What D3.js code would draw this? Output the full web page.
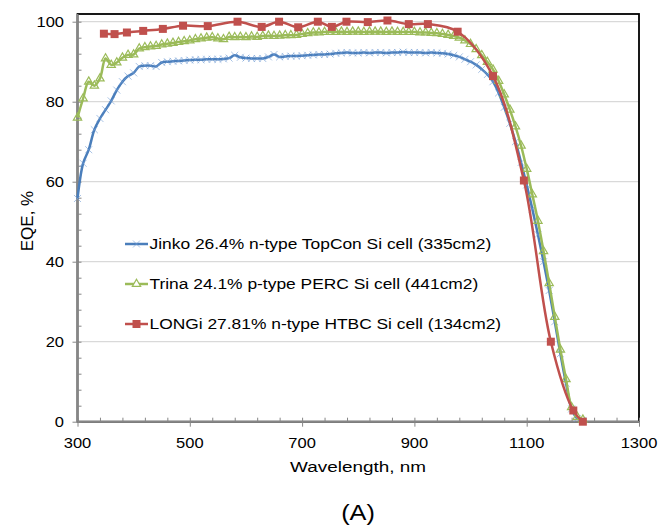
<!DOCTYPE html>
<html>
<head>
<meta charset="utf-8">
<script src="https://cdn.jsdelivr.net/npm/d3@7"></script>
<style>
  body { margin: 0; background: #fff; }
  text { font-family: "Liberation Sans", Arial, sans-serif; fill: #000; }
</style>
</head>
<body>
<div id="chart"></div>
<script>
// wavelength grid (nm) shared by Jinko and Trina
var wlGrid = [300,310,320,330,340,350,360,370,380,390,400,410,420,430,440,450,460,470,480,490,
  500,510,520,530,540,550,560,570,580,590,600,610,620,630,640,650,660,670,680,690,
  700,710,720,730,740,750,760,770,780,790,800,810,820,830,840,850,860,870,880,890,
  900,910,920,930,940,950,960,970,980,990,1000,1010,1020,1030,1040,1050,1060,1070,1080,1090,
  1100,1110,1120,1130,1140,1150,1160,1170,1180,1190,1200];

var jinkoEQE = [55.8,64.6,68.0,73.0,75.8,78.0,80.2,82.9,85.0,86.4,87.2,88.8,89.0,89.0,88.8,89.8,90.0,90.1,90.2,90.3,
  90.4,90.5,90.5,90.6,90.6,90.6,90.7,90.9,91.6,91.1,90.9,90.8,90.8,90.8,91.2,91.8,91.2,91.3,91.4,91.4,
  91.5,91.6,91.7,91.8,91.8,91.9,92.1,92.2,92.3,92.2,92.2,92.3,92.2,92.3,92.3,92.2,92.3,92.3,92.4,92.3,
  92.3,92.3,92.2,92.3,92.2,92.1,91.9,91.6,91.2,90.6,90.0,89.2,88.1,86.8,85.0,82.2,78.6,74.6,70.0,64.8,
  59.2,53.2,46.8,40.0,32.8,25.0,17.0,9.6,3.2,0.8,0.3];

var trinaEQE = [76.0,80.8,85.0,84.0,85.8,90.8,89.2,89.8,91.0,91.7,91.8,93.3,93.6,93.8,93.9,94.3,94.5,94.7,94.9,95.1,
  95.3,95.6,95.8,96.0,96.1,95.8,95.6,96.2,96.1,96.2,96.1,96.3,96.2,96.4,96.5,96.4,96.5,96.6,96.6,96.7,
  96.9,97.1,97.3,97.3,97.4,97.4,97.4,97.5,97.4,97.5,97.5,97.4,97.5,97.5,97.5,97.4,97.5,97.4,97.4,97.4,
  97.4,97.3,97.3,97.2,97.1,96.9,96.7,96.4,96.0,95.3,94.4,93.1,91.6,89.9,88.0,85.2,81.8,78.0,73.8,69.0,
  63.2,56.8,50.2,42.6,34.6,26.2,18.0,10.6,3.6,1.2,0.5];

var longiWl = [347,366,388,417,452,488,532,585,628,659,693,728,753,779,817,852,890,924,977,1040,1095,1143,1183,1200];
var longiEQE = [97.0,96.9,97.3,97.7,98.2,99.0,98.9,100.0,98.7,100.0,98.6,100.0,98.7,100.0,99.9,100.3,99.4,99.4,97.5,86.4,60.3,20.0,2.8,0.0];

var seriesNames = [
  "Jinko 26.4% n-type TopCon Si cell (335cm2)",
  "Trina 24.1% p-type PERC Si cell (441cm2)",
  "LONGi 27.81% n-type HTBC Si cell (134cm2)"
];
var xTicks = [300, 500, 700, 900, 1100, 1300];
var yTicks = [0, 20, 40, 60, 80, 100];

var colors = { jinko: "#4a7ebb", jinkoMark: "#6f9ad3", trina: "#9bbb59", longi: "#c0504d" };

var W = 659, H = 526;
var svg = d3.select("#chart").append("svg").attr("width", W).attr("height", H);

var x = d3.scaleLinear().domain([300, 1300]).range([77.5, 639]);
var y = d3.scaleLinear().domain([0, 100]).range([421.7, 21.7]);

// text stretched a bit horizontally, like the original picture
function label(g, txt, px, py, size, anchor, sx) {
  return g.append("text")
    .attr("transform", "translate(" + px + "," + py + ") scale(" + sx + ",1)")
    .attr("text-anchor", anchor)
    .style("font-size", size + "px")
    .text(txt);
}

// gridlines
svg.append("g").selectAll("line").data(yTicks.slice(1)).enter().append("line")
  .attr("x1", x(300)).attr("x2", x(1300))
  .attr("y1", function(d) { return y(d); }).attr("y2", function(d) { return y(d); })
  .attr("stroke", "#d9d9d9").attr("stroke-width", 1.2);

// plot frame
svg.append("rect")
  .attr("x", x(300)).attr("y", 14)
  .attr("width", x(1300) - x(300)).attr("height", y(0) - 14)
  .attr("fill", "none").attr("stroke", "#000").attr("stroke-width", 1.8);

// axes (minor ticks inside, major outside)
var xMinor = d3.axisTop(x).tickValues(d3.range(300, 1301, 40)).tickSize(4).tickFormat("");
var xMajor = d3.axisBottom(x).tickValues(xTicks).tickSize(5).tickFormat("");
var yMinor = d3.axisRight(y).tickValues(d3.range(0, 101, 4)).tickSize(4).tickFormat("");
var yMajor = d3.axisLeft(y).tickValues(yTicks).tickSize(5).tickFormat("");

[[xMinor, "translate(0," + y(0) + ")"], [xMajor, "translate(0," + y(0) + ")"],
 [yMinor, "translate(" + x(300) + ",0)"], [yMajor, "translate(" + x(300) + ",0)"]].forEach(function(a) {
  var g = svg.append("g").attr("transform", a[1]).call(a[0]);
  g.select(".domain").remove();
  g.selectAll("line").attr("stroke", "#868686").attr("stroke-width", 1);
});

svg.append("line").attr("x1", x(300)).attr("x2", x(300)).attr("y1", 14).attr("y2", y(0))
  .attr("stroke", "#868686").attr("stroke-width", 2);
svg.append("line").attr("x1", x(300)).attr("x2", x(1300)).attr("y1", y(0)).attr("y2", y(0))
  .attr("stroke", "#868686").attr("stroke-width", 2);

// tick labels
var tl = svg.append("g");
xTicks.forEach(function(t) { label(tl, t, x(t), 448, 15, "middle", 1.1); });
yTicks.forEach(function(t) { label(tl, t, 64, y(t) + 5.5, 15, "end", 1.1); });

// axis titles
label(svg, "Wavelength, nm", 358, 472, 15.5, "middle", 1.22);
label(svg, "(A)", 358, 520, 22, "middle", 1.15);
svg.append("text")
  .attr("transform", "translate(33,221) rotate(-90)")
  .attr("text-anchor", "middle")
  .style("font-size", "17px")
  .text("EQE, %");

// series
var curve = d3.curveCatmullRom.alpha(0.5);
var line = d3.line().curve(curve).x(function(d) { return x(d[0]); }).y(function(d) { return y(d[1]); });

var jinko = wlGrid.map(function(w, i) { return [w, jinkoEQE[i]]; });
var trina = wlGrid.map(function(w, i) { return [w, trinaEQE[i]]; });
var longi = longiWl.map(function(w, i) { return [w, longiEQE[i]]; });

var xSym = d3.symbol().type(d3.symbolX).size(34);
var triSym = d3.symbol().type(d3.symbolTriangle).size(30);
var sqSym = d3.symbol().type(d3.symbolSquare).size(64);

var plot = svg.append("g");

function drawSeries(data, col, sym, markCol, fill, sw) {
  plot.append("path").datum(data).attr("d", line)
    .attr("fill", "none").attr("stroke", col).attr("stroke-width", 2.5);
  plot.append("g").selectAll("path").data(data).enter().append("path")
    .attr("transform", function(d) { return "translate(" + x(d[0]) + "," + y(d[1]) + ")"; })
    .attr("d", sym)
    .attr("fill", fill).attr("stroke", markCol).attr("stroke-width", sw);
}

drawSeries(jinko, colors.jinko, xSym, colors.jinkoMark, colors.jinkoMark, 0.6);
drawSeries(trina, colors.trina, triSym, colors.trina, "none", 1.2);
drawSeries(longi, colors.longi, sqSym, colors.longi, colors.longi, 0);

// legend
var legend = svg.append("g");
var legendItems = [
  { name: seriesNames[0], col: colors.jinko, sym: xSym, mc: colors.jinkoMark, fill: colors.jinkoMark, sw: 0.6 },
  { name: seriesNames[1], col: colors.trina, sym: triSym, mc: colors.trina, fill: "#fff", sw: 1.2 },
  { name: seriesNames[2], col: colors.longi, sym: sqSym, mc: colors.longi, fill: colors.longi, sw: 0 }
];
legendItems.forEach(function(it, i) {
  var cy = 244 + i * 40;
  legend.append("line").attr("x1", 125).attr("x2", 148).attr("y1", cy).attr("y2", cy)
    .attr("stroke", it.col).attr("stroke-width", 2.5);
  legend.append("path").attr("transform", "translate(136.5," + cy + ")").attr("d", it.sym)
    .attr("fill", it.fill).attr("stroke", it.mc).attr("stroke-width", it.sw);
  label(legend, it.name, 149.5, cy + 5, 14.5, "start", 1.2);
});
</script>
</body>
</html>
